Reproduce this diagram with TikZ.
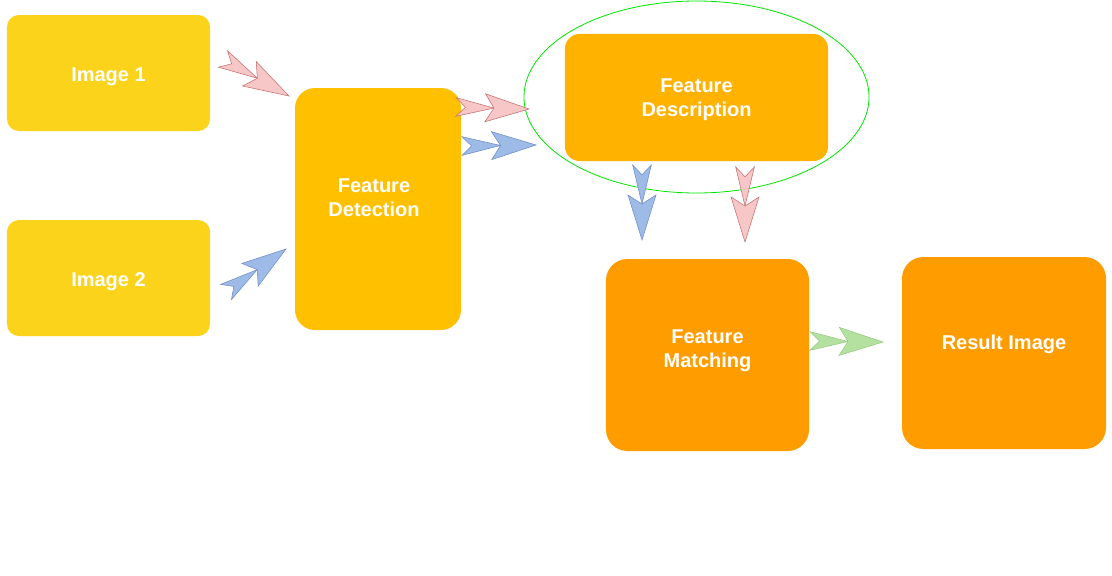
\documentclass[tikz,border=0pt]{standalone}
\usepackage{fontspec}
\setmainfont{Liberation Sans}
\usetikzlibrary{calc,shapes.geometric}
\definecolor{imgc}{RGB}{252,211,27}
\definecolor{detc}{RGB}{255,192,0}
\definecolor{desc}{RGB}{255,178,0}
\definecolor{matc}{RGB}{255,157,0}
\definecolor{pinkf}{RGB}{247,198,198}
\definecolor{pinkd}{RGB}{196,110,110}
\definecolor{bluef}{RGB}{158,186,230}
\definecolor{blued}{RGB}{110,140,200}
\definecolor{greenf}{RGB}{180,224,160}
\definecolor{greend}{RGB}{150,200,130}
% double chevron from #2 to #3
\newcommand{\chev}[3]{%
  \filldraw[#1] ($(#2)!0.52!(#3)$) -- ($(#2)!7pt!90:(#3)$) -- ($(#2)!0.13!(#3)$) -- ($(#2)!7pt!-90:(#3)$) -- cycle;
  \filldraw[#1] (#3) -- ($(#2)!0.4!(#3)!10.5pt!90:(#3)$) -- ($(#2)!0.52!(#3)$) -- ($(#2)!0.4!(#3)!10.5pt!-90:(#3)$) -- cycle;
}

\begin{document}
\begin{tikzpicture}[
  x=0.75pt, y=-0.75pt,
  box/.style={rounded corners=9pt, inner sep=0pt, text=white, align=center,
              font=\fontsize{15}{18}\selectfont\bfseries},
  lbl/.style={text=white, align=center, font=\fontsize{15}{18}\selectfont\bfseries},
  ring/.style={ellipse, draw=green!90!black, line width=0.6pt, inner sep=0pt},
  pinkar/.style={fill=pinkf, draw=pinkd, line width=0.4pt},
  bluear/.style={fill=bluef, draw=blued, line width=0.4pt},
  greenar/.style={fill=greenf, draw=greend, line width=0.4pt},
]
\useasboundingbox (0,0) rectangle (1112,575);
\node[box, fill=imgc, minimum width=152.3pt, minimum height=87pt,
      label={[lbl, yshift=-2.5pt]center:Image 1}] (img1) at (108.5,73) {};
\node[box, fill=imgc, minimum width=152.3pt, minimum height=87pt,
      label={[lbl, yshift=-2.5pt]center:Image 2}] (img2) at (108.5,278) {};
\node[box, fill=detc, rounded corners=15pt, minimum width=124.5pt, minimum height=181.5pt,
      label={[lbl, yshift=8.5pt, xshift=-3pt]center:Feature\\Detection}] (det) at (378,209) {};
\node[box, fill=desc, rounded corners=11pt, minimum width=197.3pt, minimum height=95.3pt,
      label={[lbl, yshift=-1.5pt]center:Feature\\Description}] (descr) at (696.5,97.5) {};
\node[ring, minimum width=258.8pt, minimum height=144pt] (oval) at (696.5,97) {};
\node[box, fill=matc, rounded corners=16pt, minimum width=152.3pt, minimum height=144pt,
      label={[lbl, yshift=3.5pt]center:Feature\\Matching}] (match) at (707.5,355) {};
\node[box, fill=matc, rounded corners=16pt, minimum width=153pt, minimum height=144pt,
      label={[lbl, yshift=6.5pt]center:Result Image}] (res) at (1004,353) {};
% arrow ends
\coordinate (t1) at (223,59);   \coordinate (h1) at (289,96);
\coordinate (t2) at (226,292);  \coordinate (h2) at (286,249);
\coordinate (t3) at (456,107);  \coordinate (h3) at (529,109);
\coordinate (t4) at (462,146);  \coordinate (h4) at (536,145);
\coordinate (t5) at (642,165);  \coordinate (h5) at (642,240);
\coordinate (t6) at (745,167);  \coordinate (h6) at (745,242);
\coordinate (t7) at (810,341);  \coordinate (h7) at (883,342);
\chev{pinkar}{t1}{h1}
\chev{bluear}{t2}{h2}
\chev{pinkar}{t3}{h3}
\chev{bluear}{t4}{h4}
\chev{bluear}{t5}{h5}
\chev{pinkar}{t6}{h6}
\chev{greenar}{t7}{h7}
\end{tikzpicture}
\end{document}
